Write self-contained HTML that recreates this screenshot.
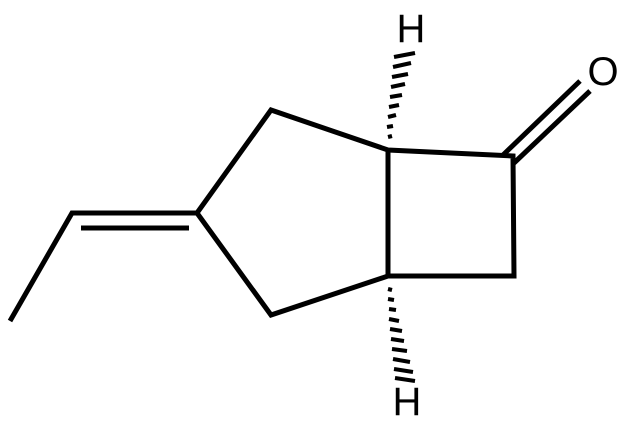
<!DOCTYPE html>
<html><head><style>html,body{margin:0;padding:0;background:#fff;}</style></head>
<body>
<svg width="628" height="425" viewBox="0 0 628 425" xmlns="http://www.w3.org/2000/svg">
<g stroke="#000" stroke-width="5" fill="none" stroke-linecap="butt" stroke-linejoin="miter">
<polyline points="10,321 72,213 197,213 271,110 388,150 513,156 514,276 388,276 271,315 197,213"/>
<line x1="388" y1="150" x2="388" y2="276"/>
<line x1="81" y1="228" x2="189" y2="228"/>
<line x1="503" y1="155" x2="580" y2="81"/>
<line x1="514" y1="163" x2="590" y2="91"/>
</g>
<g stroke="#000" stroke-width="4">
<line x1="388" y1="137" x2="392" y2="136"/>
<line x1="387" y1="127" x2="393" y2="126"/>
<line x1="388" y1="117" x2="396" y2="115"/>
<line x1="389" y1="107" x2="399" y2="105"/>
<line x1="390" y1="97" x2="402" y2="95"/>
<line x1="391" y1="87" x2="405" y2="84"/>
<line x1="392" y1="77" x2="408" y2="74"/>
<line x1="393" y1="67" x2="411" y2="63"/>
<line x1="394" y1="57" x2="415" y2="53"/>
<line x1="388" y1="289" x2="392" y2="290"/>
<line x1="388" y1="299" x2="394" y2="300"/>
<line x1="389" y1="309" x2="396" y2="310"/>
<line x1="389" y1="319" x2="399" y2="321"/>
<line x1="390" y1="329" x2="402" y2="331"/>
<line x1="391" y1="339" x2="404" y2="341"/>
<line x1="392" y1="349" x2="407" y2="351"/>
<line x1="393" y1="359" x2="410" y2="362"/>
<line x1="394" y1="369" x2="413" y2="372"/>
<line x1="395" y1="378" x2="415" y2="381"/>
</g>
<g font-family="Liberation Sans, sans-serif" font-size="40" text-anchor="middle" fill="#000">
<text x="411" y="42">H</text>
<text x="407" y="415">H</text>
<text x="603" y="85">O</text>
</g>
</svg>
</body></html>
